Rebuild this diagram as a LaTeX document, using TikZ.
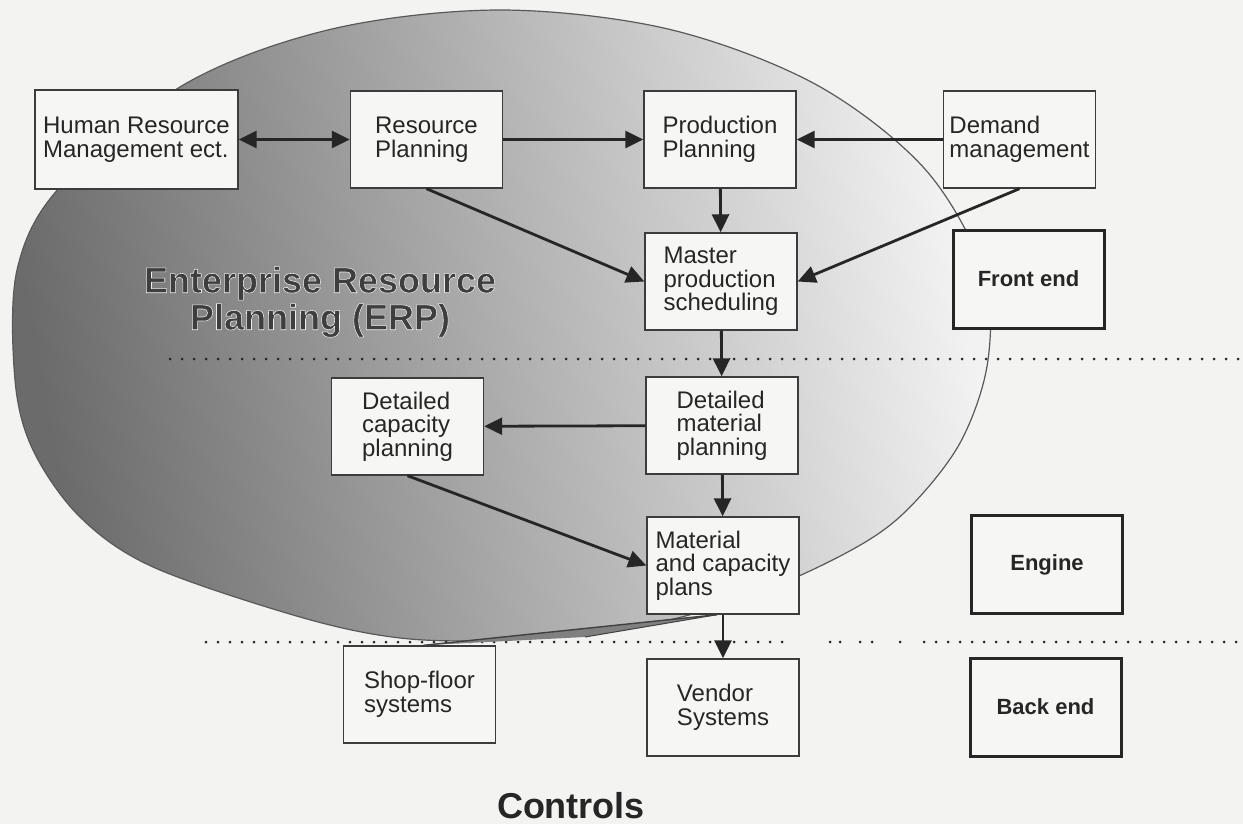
\documentclass[tikz,border=0pt]{standalone}
\usepackage{fontspec}
\setmainfont{Liberation Sans}
\usetikzlibrary{arrows.meta}

\definecolor{paper}{HTML}{F3F3F1}
\definecolor{boxfill}{HTML}{F6F6F4}
\definecolor{boxline}{HTML}{3C3C3C}
\definecolor{ink}{HTML}{262626}
\definecolor{erpgrey}{HTML}{3E3E3E}

% white rim round the ERP title
\newcommand{\rimon}{\special{pdf:literal direct 2 Tr 0.28 w 0.93 0.93 0.93 RG}}
\newcommand{\rimoff}{\special{pdf:literal direct 0 Tr}}

\tikzset{
  blk/.style={rectangle, draw=boxline, fill=boxfill, line width=0.7pt, text=ink, align=left,
    font=\fontsize{12}{11.8}\selectfont, minimum width=76pt, minimum height=48.5pt, inner sep=2pt},
  lvl/.style={rectangle, draw=ink, fill=boxfill, line width=1.5pt, text=ink,
    font=\bfseries\fontsize{11}{13}\selectfont, minimum width=75.5pt, minimum height=49pt},
  flow/.style={->, line width=1.4pt, draw=ink},
  tier/.style={draw=ink, line width=1.5pt, dash pattern=on 0pt off 6pt, line cap=round}
}

\begin{document}
\begin{tikzpicture}[x=0.5pt, y=-0.5pt, >={Triangle[length=9pt,width=8.5pt]}]

    \useasboundingbox[fill=paper] (0,0) rectangle (1243,824);

    % ERP cloud
    \shade[draw=black!65, line width=0.6pt, left color=black!58, right color=black!5, shading angle=100]
        plot[smooth cycle, tension=0.55] coordinates {
            (500,10) (668,29) (815,84) (924,168) (983,270) (988,360) (960,443) (905,512)
            (846,553) (745,598) (627,629) (500,640) (400,638) (300,617) (153,567) (80,517)
            (33,450) (15,380) (17,270) (60,187) (185,84) (332,29)};
    \node (erp) [font=\bfseries\fontsize{18}{18.5}\selectfont, text=erpgrey, align=center] at (320,302)
        {\rimon Enterprise Resource\\Planning (ERP)\rimoff};

    % tier separators
    \draw[tier] (170,359) -- (1243,359);
    \draw[tier] (206,642) -- (791,642);
    \draw[tier] (924,642) -- (1240,642);
    \foreach \x in {830,840,860,872,900}
        \fill[ink] (\x,642) circle (0.75pt);

    % planning boxes
    \node (hrm) [blk, minimum width=101.5pt, minimum height=49.5pt] at (136.5,139.5) {Human Resource\\Management ect.};
    \node (res) [blk] at (426.5,139.5) {Resource\\Planning};
    \node (prod) [blk] at (720,139.5) {Production\\Planning};
    \node (dem) [blk] at (1019.5,139.5) {Demand\\management};
    \node (mps) [blk] at (721,281.5) {Master\\production\\scheduling};
    \node (dmp) [blk] at (722,425.5) {Detailed\\material\\planning};
    \node (dcp) [blk] at (407.5,426.5) {Detailed\\capacity\\planning};
    \node (plans) [blk] at (723,565.5) {Material\\and capacity\\plans};
    \node (shop) [blk] at (419.5,694.5) {Shop-floor\\systems};
    \node (vendor) [blk] at (723,707.5) {Vendor\\Systems};

    % tail of the cloud
    \coordinate (tail) at (585,637);
    \fill[black!50] ([xshift=-3pt]plans.south) -- ([xshift=2pt]shop.north) -- (tail) -- cycle;
    \draw[black!75, line width=0.7pt] ([xshift=-3pt]plans.south) -- ([xshift=2pt]shop.north);
    \draw[black!75, line width=0.5pt] ([xshift=-3pt]plans.south) -- (tail);

    % levels
    \node (front) [lvl] at (1028.5,279) {Front end};
    \node (engine) [lvl] at (1047,564.5) {Engine};
    \node (back) [lvl] at (1045.5,707) {Back end};

    % flows
    \draw[flow, <->] (hrm) -- (res);
    \draw[flow] (res) -- (prod);
    \draw[flow] (dem) -- (prod);
    \draw[flow] (prod) -- (mps);
    \draw[flow] (res.south) -- (mps.west);
    \draw[flow] (dem.south) -- (mps.east);
    \draw[flow] (mps) -- (dmp);
    \draw[flow] (dmp) -- (dcp);
    \draw[flow] (dcp.south) -- (plans.west);
    \draw[flow] (dmp) -- (plans);
    \draw[flow] (plans) -- (vendor);

    \node (ctrl) [font=\bfseries\fontsize{18}{20}\selectfont, text=ink] at (571,806) {Controls};

\end{tikzpicture}
\end{document}
